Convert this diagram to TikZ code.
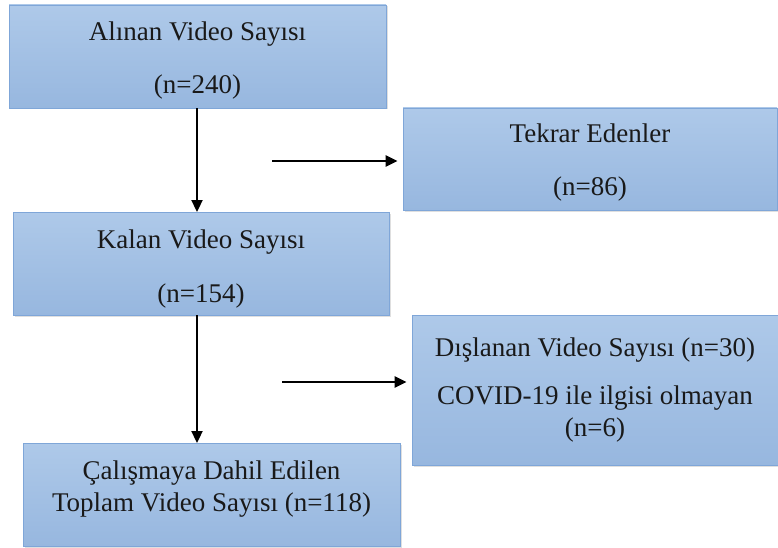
\documentclass[tikz,border=0pt]{standalone}
\usepackage{fontspec}
\setmainfont{Liberation Serif}
\usetikzlibrary{shadows,arrows.meta}
\definecolor{boxtop}{HTML}{AEC9E9}
\definecolor{boxbot}{HTML}{97B7DF}
\definecolor{boxline}{HTML}{7FA6D8}
\tikzset{
  flowbox/.style={draw=boxline, line width=0.8pt, top color=boxtop, bottom color=boxbot,
    inner sep=0pt,
    drop shadow={opacity=0.25, shadow xshift=1.5pt, shadow yshift=-1.5pt}},
  boxtext/.style={inner sep=0pt, align=center, font=\fontsize{27}{32}\selectfont, text=black!90},
  flowarrow/.style={-{Triangle[length=12pt,width=11pt]}, line width=2.3pt, black},
}
\begin{document}
\begin{tikzpicture}[x=1pt,y=-1pt]
\useasboundingbox (0,0) rectangle (778,548);
\node[flowbox, minimum width=377pt, minimum height=103pt] (alinan) at (197.5,56.5) {};
\node[boxtext] (alinanT) at ([yshift=-4.5pt]alinan.center) {Alınan Video Sayısı\\[21pt](n=240)};
\node[flowbox, minimum width=374pt, minimum height=102pt] (tekrar) at (590,159) {};
\node[boxtext] (tekrarT) at ([yshift=-4pt]tekrar.center) {Tekrar Edenler\\[21pt](n=86)};
\node[flowbox, minimum width=376pt, minimum height=103pt] (kalan) at (201,263.5) {};
\node[boxtext] (kalanT) at ([yshift=-6pt]kalan.center) {Kalan Video Sayısı\\[22pt](n=154)};
\node[flowbox, minimum width=366pt, minimum height=150pt] (disla) at (595,390) {};
\node[boxtext] (dislaT) at ([yshift=0pt]disla.center) {Dışlanan Video Sayısı (n=30)\\[16pt]COVID-19 ile ilgisi olmayan\\(n=6)};
\node[flowbox, minimum width=377pt, minimum height=103pt] (dahil) at (211.5,494.5) {};
\node[boxtext] (dahilT) at ([yshift=5pt]dahil.center) {Çalışmaya Dahil Edilen\\Toplam Video Sayısı (n=118)};
\coordinate (s1) at (272,161);
\coordinate (s2) at (282,382);
\draw[flowarrow] (alinan.south -| 197,0) -- (197,212);
\draw[flowarrow] (197,315) -- (197,443);
\draw[flowarrow, shorten >=5pt] (s1) -- (s1 -| tekrar.west);
\draw[flowarrow, shorten >=5pt] (s2) -- (s2 -| disla.west);
\end{tikzpicture}
\end{document}
